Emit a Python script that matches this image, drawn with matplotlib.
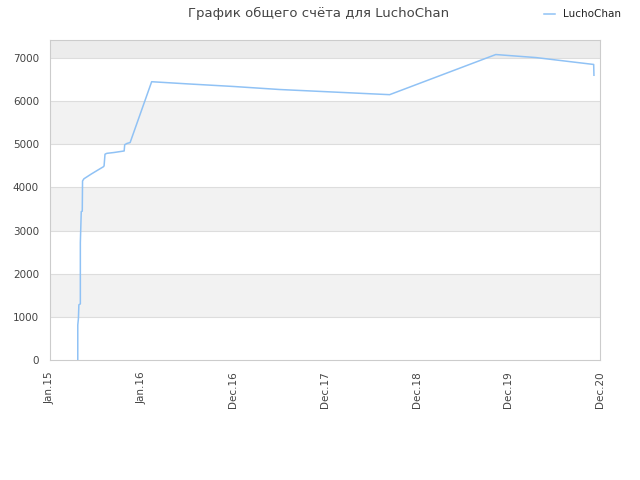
import matplotlib
matplotlib.use("Agg")
import matplotlib.pyplot as plt

# x is a position on the evenly spaced date axis (0 = Jan.15 ... 6 = Dec.20)
x_pos = [0.303, 0.303, 0.31, 0.315, 0.331, 0.331, 0.341, 0.352, 0.355, 0.37,
         0.45, 0.52, 0.583, 0.59, 0.60, 0.62, 0.70, 0.809, 0.815, 0.84,
         0.874, 1.109, 1.5, 2.0, 2.5, 3.0, 3.5, 3.705, 4.863, 5.3,
         5.931, 5.934]
score = [0, 810, 960, 1280, 1300, 2720, 3440, 3450, 4150, 4200,
         4310, 4400, 4480, 4500, 4770, 4790, 4810, 4845, 4990, 5020,
         5040, 6450, 6400, 6340, 6270, 6220, 6170, 6150, 7080, 7010,
         6850, 6600]
tick_labels = ["Jan.15", "Jan.16", "Dec.16", "Dec.17", "Dec.18", "Dec.19", "Dec.20"]
y_ticks = [0, 1000, 2000, 3000, 4000, 5000, 6000, 7000]

fig = plt.figure(figsize=(6.4, 4.8), dpi=100)
ax = fig.add_axes([50 / 640, 1 - 360 / 480, 550 / 640, 320 / 480])

y_top = 7417
ax.set_xlim(0, 6)
ax.set_ylim(0, y_top)

# alternating bands
for lo in range(1000, 8000, 2000):
    ax.axhspan(lo, min(lo + 1000, y_top), color="#f2f2f2" if lo < 7000 else "#ececec", zorder=0, lw=0)
for yv in y_ticks[1:]:
    ax.axhline(yv, color="#dddddd", lw=0.8, zorder=1)

ax.plot(x_pos, score, color="#90c2f5", lw=1.1, zorder=3, label="LuchoChan")

ax.set_yticks(y_ticks)
ax.set_xticks(range(len(tick_labels)))
ax.set_xticklabels(tick_labels, rotation=90)
ax.tick_params(length=0, labelsize=7.5, colors="#444444", pad=8)
for s in ax.spines.values():
    s.set_color("#cccccc")

fig.text(0.497, 0.972, "График общего счёта для LuchoChan", ha="center", va="center",
         fontsize=9.5, color="#444444")
fig.legend(loc="upper right", bbox_to_anchor=(0.985, 1.0), frameon=False, fontsize=7.5,
           handlelength=1.0, labelcolor="#222222")

fig.savefig("out.png", dpi=100)
